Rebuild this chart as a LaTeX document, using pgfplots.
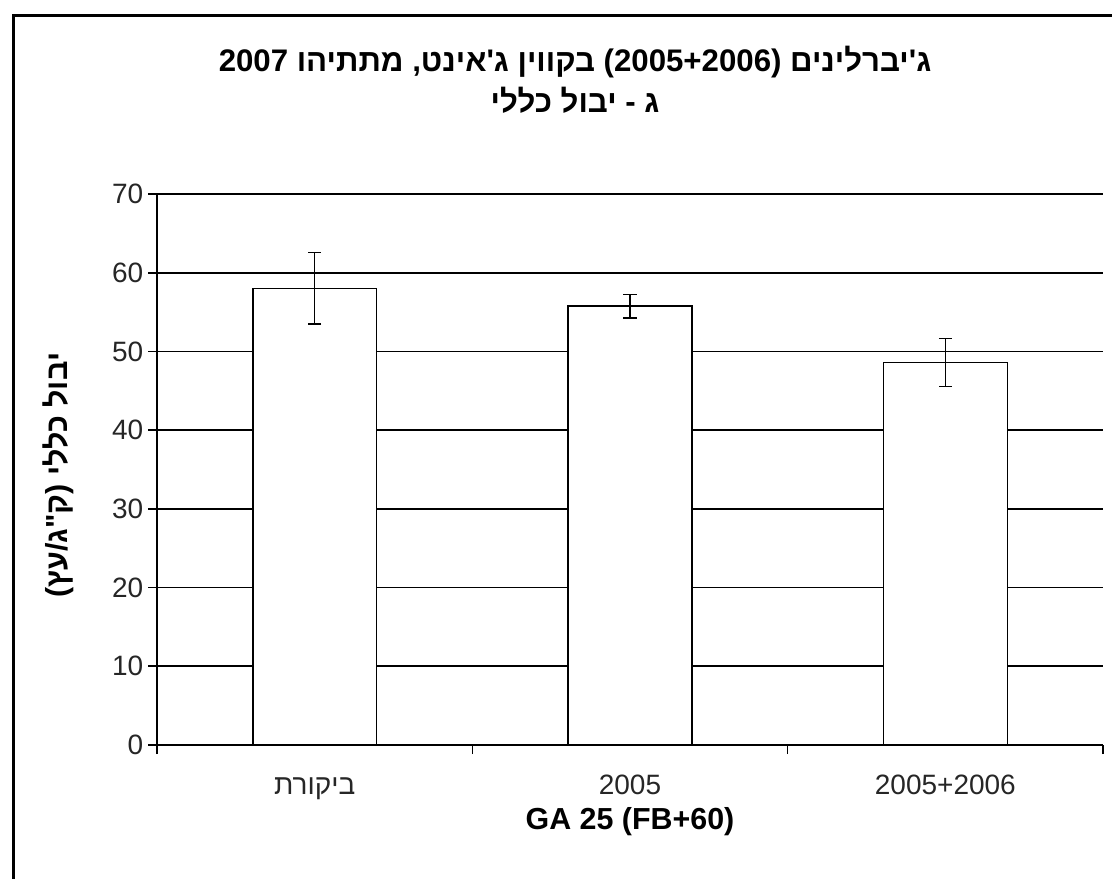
\documentclass[border=0pt]{standalone}
\usepackage{fontspec}
\setmainfont{Liberation Sans}
\newfontfamily\heb[Script=Hebrew]{Liberation Sans}
\usepackage{pgfplots}
\pgfplotsset{compat=1.18}
\TeXXeTstate=1
\begin{document}
\begin{tikzpicture}
\path[use as bounding box] (0pt,0pt) rectangle (834pt,658.5pt);
\draw[line width=2.25pt] (10.1pt,-5pt) -- (10.1pt,647pt) -- (840pt,647pt);
\node[font=\heb\bfseries\fontsize{23.4}{28}\selectfont] at (431.25pt,612pt) {\beginR ג'יברלינים (\beginL 2005+2006\endL) בקווין ג'אינט, מתתיהו \beginL 2007\endL\endR};
\node[font=\heb\bfseries\fontsize{23.4}{28}\selectfont] at (431.25pt,583.5pt) {\beginR ג - יבול כללי\endR};
\begin{axis}[
  at={(117.75pt,99.75pt)}, anchor=south west, scale only axis,
  width=709.5pt, height=413.25pt,
  clip=false,
  xmin=-0.5, xmax=2.5, ymin=0, ymax=70,
  axis x line=bottom, axis y line=left,
  axis line style={-, black, line width=1.2pt},
  ytick={0,10,...,70},
  ymajorgrids, major grid style={black, line width=1.2pt},
  xtick={0,1,2},
  xticklabels={{\heb\beginR ביקורת\endR},2005,2005+2006},
  minor xtick={-0.5,0.5,1.5,2.5},
  major x tick style={draw=none},
  tick align=outside,
  major tick length=6.75pt, minor tick length=6.75pt,
  tick style={black, line width=1.2pt},
  every tick label/.append style={font=\fontsize{21}{25}\selectfont, text=black!85},
  x tick label style={yshift=-12pt, text height=15pt, text depth=4pt},
  /pgf/number format/assume math mode=true,
  xlabel={GA 25 (FB+60)},
  xlabel style={font=\bfseries\fontsize{22.8}{27}\selectfont, at={(axis description cs:0.5,0)}, anchor=center, yshift=-57.75pt},
  ylabel={\heb\beginR יבול כללי (ק"ג/עץ)\endR},
  ylabel style={font=\heb\bfseries\fontsize{22.8}{27}\selectfont, at={(axis description cs:-0.1047,0.49)}, anchor=center},
]
\addplot[ybar, bar width=0.393, fill=white, draw=black, line width=1.2pt,
  error bars/.cd, y dir=both, y explicit,
  error bar style={line width=1.2pt, black},
  error mark options={rotate=90, mark size=4.9pt, line width=1.2pt, black}]
  coordinates {(0,58.0) +- (0,4.55) (1,55.75) +- (0,1.5) (2,48.6) +- (0,3.05)};
\end{axis}
\end{tikzpicture}
\end{document}
